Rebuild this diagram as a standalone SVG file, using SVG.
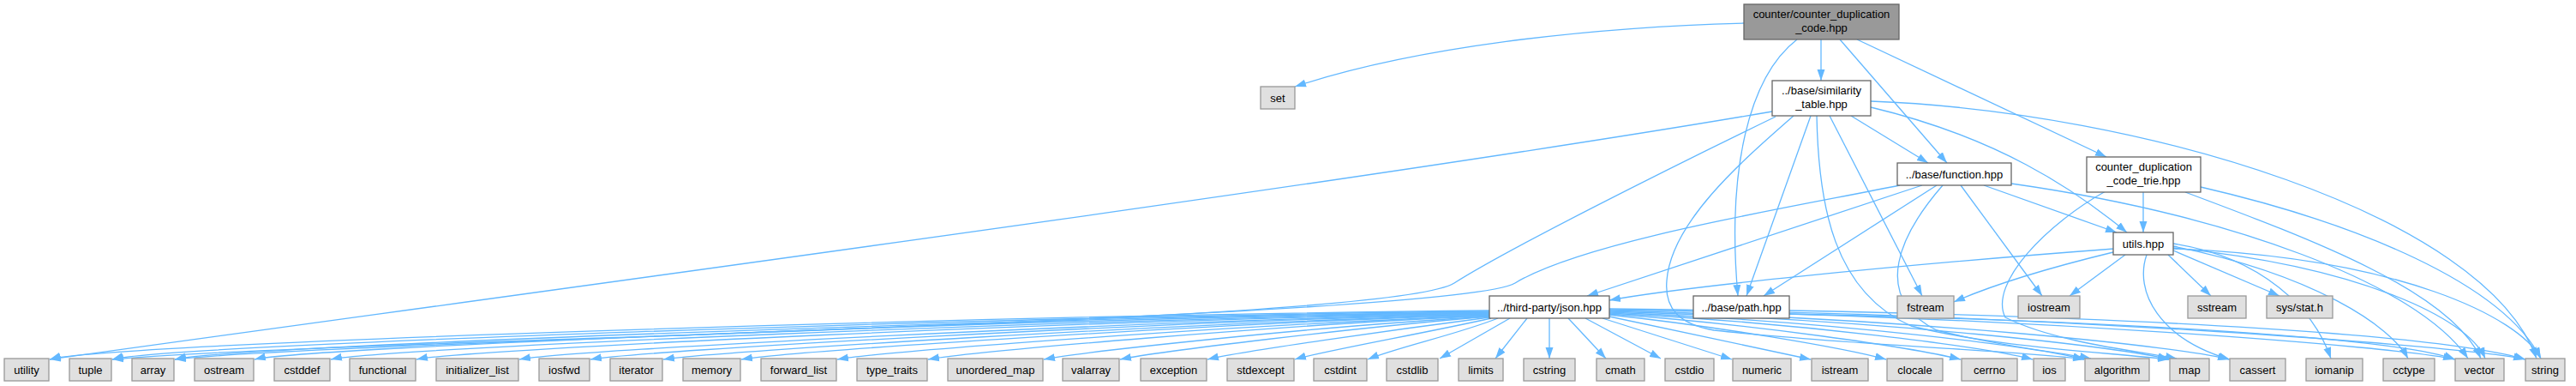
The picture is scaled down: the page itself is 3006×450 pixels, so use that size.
<svg xmlns="http://www.w3.org/2000/svg" width="3006" height="450" viewBox="0 0 3006 450">
<defs>
<marker id="a" markerUnits="userSpaceOnUse" markerWidth="14" markerHeight="10" refX="13" refY="5" orient="auto"><path d="M0,0.5 L13,5 L0,9.5 z" fill="#63b8ff"/></marker>
<style>
.n rect{fill:#fff;stroke:#666;stroke-width:1.3}
.x rect{fill:#e0e0e0;stroke:#999;stroke-width:1.3}
.t rect{fill:#999;stroke:#666;stroke-width:1.3}
text{font-family:"Liberation Sans",Arial,sans-serif;font-size:13px;text-anchor:middle;fill:#000}
#edges path{fill:none;stroke:#63b8ff;stroke-width:1.3;marker-end:url(#a)}
</style>
</defs>
<rect width="3006" height="450" fill="#fff"/>
<g id="edges">
<path d="M2035,27 C1850,32 1650,55 1511,101"/>
<path d="M2125,46 L2125,94"/>
<path d="M2097,46 C2040,90 2015,200 2028,345"/>
<path d="M2147,46 L2272,190"/>
<path d="M2167,46 L2458,183"/>
<path d="M2068,130 C1600,210 700,330 58,419"/>
<path d="M2072,136 C1950,195 1760,290 1697,330 C1620,379 400,395 131,419"/>
<path d="M2093,135 C2030,190 1950,260 1945,327 C1942,360 1960,378 2000,385 C2150,402 2380,410 2432,419"/>
<path d="M2160,135 L2250,190"/>
<path d="M2113,135 L2038,345"/>
<path d="M2183,125 C2330,160 2420,220 2482,271"/>
<path d="M2135,135 L2243,345"/>
<path d="M2183,118 C2500,130 2900,250 2960,418"/>
<path d="M2120,135 C2122,240 2140,340 2230,380 C2330,405 2450,410 2531,419"/>
<path d="M2217,216 C2100,240 1850,280 1768,330 C1700,371 400,397 204,419"/>
<path d="M2243,216 L1852,345"/>
<path d="M2260,216 L2058,345"/>
<path d="M2315,216 L2470,271"/>
<path d="M2288,216 L2383,345"/>
<path d="M2347,214 C2600,250 2820,330 2880,418"/>
<path d="M2267,216 C2220,270 2180,345 2260,385 C2340,405 2400,410 2440,418"/>
<path d="M2501,224 L2501,271"/>
<path d="M2550,224 C2700,280 2860,340 2895,418"/>
<path d="M2568,218 C2750,260 2920,330 2965,418"/>
<path d="M2457,223 C2390,260 2320,330 2340,370 C2400,400 2500,410 2540,418"/>
<path d="M2467,290 C2200,310 1960,335 1878,350"/>
<path d="M2466,294 C2400,310 2330,330 2280,352"/>
<path d="M2480,297 L2415,345"/>
<path d="M2530,297 L2580,345"/>
<path d="M2536,292 L2660,345"/>
<path d="M2536,284 C2640,300 2700,360 2720,418"/>
<path d="M2536,287 C2700,320 2790,380 2810,418"/>
<path d="M2536,289 C2750,310 2880,370 2900,418"/>
<path d="M2536,290 C2800,300 2940,370 2965,418"/>
<path d="M2505,297 C2490,340 2520,395 2602,419"/>
<path d="M2088,362 C2500,370 2850,390 2947,419"/>
<path d="M2088,366 C2500,375 2800,395 2865,419"/>
<path d="M1738,362 C1150,368 120,400 58,419"/>
<path d="M1738,363 C1170,369 190,402 131,419"/>
<path d="M1738,364 C1190,370 265,404 204,419"/>
<path d="M1738,364 C1220,371 355,405 297,419"/>
<path d="M1738,365 C1250,372 445,406 386,419"/>
<path d="M1738,365 C1280,373 545,407 486,419"/>
<path d="M1738,366 C1320,374 665,408 606,419"/>
<path d="M1738,366 C1350,375 745,409 689,419"/>
<path d="M1738,367 C1380,376 830,410 774,419"/>
<path d="M1738,367 C1410,377 920,410 865,419"/>
<path d="M1738,368 C1450,378 1030,410 977,419"/>
<path d="M1738,368 C1490,379 1135,410 1083,419"/>
<path d="M1738,369 C1540,380 1265,410 1218,419"/>
<path d="M1738,369 C1580,382 1350,410 1307,419"/>
<path d="M1738,370 C1630,384 1445,410 1409,419"/>
<path d="M1740,371 C1670,387 1540,410 1511,419"/>
<path d="M1748,371 C1700,390 1630,405 1596,419"/>
<path d="M1762,371 L1680,418"/>
<path d="M1782,371 L1745,418"/>
<path d="M1808,371 L1808,418"/>
<path d="M1830,371 L1874,418"/>
<path d="M1850,371 L1938,418"/>
<path d="M1870,371 L2021,419"/>
<path d="M1878,369 L2113,419"/>
<path d="M1878,367 C2000,380 2150,405 2201,419"/>
<path d="M1878,366 C2050,378 2230,405 2288,419"/>
<path d="M1878,365 C2100,376 2320,405 2372,419"/>
<path d="M1878,364 C2150,375 2380,405 2432,419"/>
<path d="M1878,363 C2200,373 2480,405 2531,419"/>
<path d="M1878,362 C2250,372 2550,405 2601,419"/>
<path d="M1878,361 C2350,368 2810,405 2864,419"/>
<path d="M1878,360 C2400,366 2890,405 2946,419"/>
</g>
<g id="n_counter" class="t"><rect x="2035" y="5" width="181" height="41"/><text x="2125.5" y="21">counter/counter_duplication</text><text x="2125.5" y="37">_code.hpp</text></g>
<g id="n_set" class="x"><rect x="1471" y="101" width="40" height="26"/><text x="1491" y="118.5">set</text></g>
<g id="n_similarity" class="n"><rect x="2068" y="94" width="115" height="41"/><text x="2125.5" y="110">../base/similarity</text><text x="2125.5" y="126">_table.hpp</text></g>
<g id="n_function" class="n"><rect x="2214" y="190" width="133" height="26"/><text x="2280.5" y="207.5">../base/function.hpp</text></g>
<g id="n_trie" class="n"><rect x="2435" y="183" width="133" height="41"/><text x="2501.5" y="199">counter_duplication</text><text x="2501.5" y="215">_code_trie.hpp</text></g>
<g id="n_utils" class="n"><rect x="2466" y="271" width="70" height="26"/><text x="2501" y="288.5">utils.hpp</text></g>
<g id="n_json" class="n"><rect x="1738" y="345" width="140" height="26"/><text x="1808" y="362.5">../third-party/json.hpp</text></g>
<g id="n_path" class="n"><rect x="1976" y="345" width="112" height="26"/><text x="2032" y="362.5">../base/path.hpp</text></g>
<g id="n_fstream" class="x"><rect x="2214" y="345" width="66" height="26"/><text x="2247" y="362.5">fstream</text></g>
<g id="n_iostream" class="x"><rect x="2355" y="345" width="72" height="26"/><text x="2391" y="362.5">iostream</text></g>
<g id="n_sstream" class="x"><rect x="2553" y="345" width="68" height="26"/><text x="2587" y="362.5">sstream</text></g>
<g id="n_sysstat" class="x"><rect x="2645" y="345" width="77" height="26"/><text x="2683.5" y="362.5">sys/stat.h</text></g>
<g id="n_utility" class="x"><rect x="5" y="418" width="52" height="26"/><text x="31" y="435.5">utility</text></g>
<g id="n_tuple" class="x"><rect x="81" y="418" width="49" height="26"/><text x="105.5" y="435.5">tuple</text></g>
<g id="n_array" class="x"><rect x="154" y="418" width="49" height="26"/><text x="178.5" y="435.5">array</text></g>
<g id="n_ostream" class="x"><rect x="227" y="418" width="69" height="26"/><text x="261.5" y="435.5">ostream</text></g>
<g id="n_cstddef" class="x"><rect x="320" y="418" width="65" height="26"/><text x="352.5" y="435.5">cstddef</text></g>
<g id="n_functional" class="x"><rect x="408" y="418" width="77" height="26"/><text x="446.5" y="435.5">functional</text></g>
<g id="n_initializer_list" class="x"><rect x="509" y="418" width="96" height="26"/><text x="557" y="435.5">initializer_list</text></g>
<g id="n_iosfwd" class="x"><rect x="629" y="418" width="59" height="26"/><text x="658.5" y="435.5">iosfwd</text></g>
<g id="n_iterator" class="x"><rect x="712" y="418" width="61" height="26"/><text x="742.5" y="435.5">iterator</text></g>
<g id="n_memory" class="x"><rect x="797" y="418" width="67" height="26"/><text x="830.5" y="435.5">memory</text></g>
<g id="n_forward_list" class="x"><rect x="888" y="418" width="88" height="26"/><text x="932" y="435.5">forward_list</text></g>
<g id="n_type_traits" class="x"><rect x="1000" y="418" width="82" height="26"/><text x="1041" y="435.5">type_traits</text></g>
<g id="n_unordered_map" class="x"><rect x="1106" y="418" width="111" height="26"/><text x="1161.5" y="435.5">unordered_map</text></g>
<g id="n_valarray" class="x"><rect x="1240" y="418" width="66" height="26"/><text x="1273" y="435.5">valarray</text></g>
<g id="n_exception" class="x"><rect x="1331" y="418" width="77" height="26"/><text x="1369.5" y="435.5">exception</text></g>
<g id="n_stdexcept" class="x"><rect x="1432" y="418" width="78" height="26"/><text x="1471" y="435.5">stdexcept</text></g>
<g id="n_cstdint" class="x"><rect x="1533" y="418" width="62" height="26"/><text x="1564" y="435.5">cstdint</text></g>
<g id="n_cstdlib" class="x"><rect x="1618" y="418" width="60" height="26"/><text x="1648" y="435.5">cstdlib</text></g>
<g id="n_limits" class="x"><rect x="1702" y="418" width="52" height="26"/><text x="1728" y="435.5">limits</text></g>
<g id="n_cstring" class="x"><rect x="1778" y="418" width="60" height="26"/><text x="1808" y="435.5">cstring</text></g>
<g id="n_cmath" class="x"><rect x="1863" y="418" width="56" height="26"/><text x="1891" y="435.5">cmath</text></g>
<g id="n_cstdio" class="x"><rect x="1943" y="418" width="57" height="26"/><text x="1971.5" y="435.5">cstdio</text></g>
<g id="n_numeric" class="x"><rect x="2022" y="418" width="68" height="26"/><text x="2056" y="435.5">numeric</text></g>
<g id="n_istream" class="x"><rect x="2114" y="418" width="66" height="26"/><text x="2147" y="435.5">istream</text></g>
<g id="n_clocale" class="x"><rect x="2202" y="418" width="65" height="26"/><text x="2234.5" y="435.5">clocale</text></g>
<g id="n_cerrno" class="x"><rect x="2289" y="418" width="65" height="26"/><text x="2321.5" y="435.5">cerrno</text></g>
<g id="n_ios" class="x"><rect x="2373" y="418" width="37" height="26"/><text x="2391.5" y="435.5">ios</text></g>
<g id="n_algorithm" class="x"><rect x="2433" y="418" width="75" height="26"/><text x="2470.5" y="435.5">algorithm</text></g>
<g id="n_map" class="x"><rect x="2532" y="418" width="46" height="26"/><text x="2555" y="435.5">map</text></g>
<g id="n_cassert" class="x"><rect x="2602" y="418" width="65" height="26"/><text x="2634.5" y="435.5">cassert</text></g>
<g id="n_iomanip" class="x"><rect x="2691" y="418" width="66" height="26"/><text x="2724" y="435.5">iomanip</text></g>
<g id="n_cctype" class="x"><rect x="2781" y="418" width="60" height="26"/><text x="2811" y="435.5">cctype</text></g>
<g id="n_vector" class="x"><rect x="2865" y="418" width="57" height="26"/><text x="2893.5" y="435.5">vector</text></g>
<g id="n_string" class="x"><rect x="2947" y="418" width="46" height="26"/><text x="2970" y="435.5">string</text></g>
</svg>
